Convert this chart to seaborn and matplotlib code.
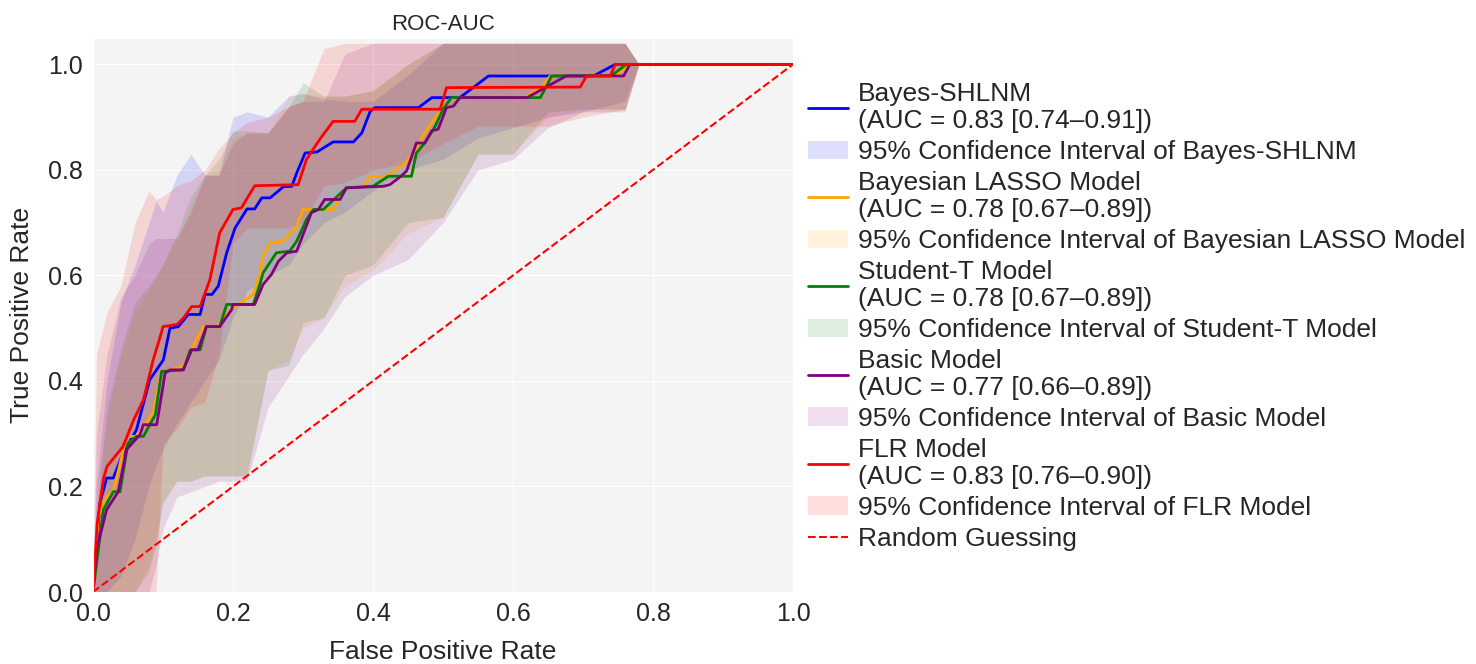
import numpy as np
import pandas as pd
import matplotlib
matplotlib.use("Agg")
import matplotlib.pyplot as plt
import seaborn as sns

# ROC curves (mean)
bayes_fpr = [0, 0.01, 0.0195, 0.029, 0.043, 0.062, 0.081, 0.1005, 0.11, 0.122,
             0.136, 0.153, 0.16, 0.17, 0.179, 0.191, 0.203, 0.22, 0.231, 0.241,
             0.253, 0.272, 0.284, 0.291, 0.303, 0.32, 0.343, 0.372, 0.384, 0.396,
             0.403, 0.465, 0.484, 0.524, 0.543, 0.565, 0.715, 0.746, 1.0]
bayes_tpr = [0, 0.169, 0.216, 0.216, 0.263, 0.307, 0.402, 0.44, 0.50, 0.503,
             0.526, 0.526, 0.564, 0.564, 0.58, 0.643, 0.69, 0.726, 0.726, 0.747,
             0.747, 0.768, 0.769, 0.794, 0.832, 0.834, 0.853, 0.853, 0.870, 0.911,
             0.918, 0.918, 0.937, 0.937, 0.956, 0.978, 0.978, 1.0, 1.0]

lasso_fpr = [0, 0.0076, 0.0195, 0.029, 0.048, 0.062, 0.086, 0.098, 0.11, 0.129,
             0.143, 0.158, 0.177, 0.196, 0.229, 0.239, 0.243, 0.253, 0.272, 0.291,
             0.30, 0.343, 0.362, 0.386, 0.396, 0.42, 0.446, 0.458, 0.474, 0.491,
             0.51, 0.524, 0.607, 0.62, 0.643, 0.653, 0.746, 0.767, 1.0]
lasso_tpr = [0, 0.143, 0.181, 0.19, 0.295, 0.295, 0.339, 0.418, 0.421, 0.428,
             0.466, 0.503, 0.503, 0.535, 0.564, 0.605, 0.636, 0.662, 0.665, 0.693,
             0.725, 0.725, 0.766, 0.769, 0.788, 0.788, 0.813, 0.832, 0.870, 0.902,
             0.934, 0.937, 0.937, 0.94, 0.959, 0.978, 0.978, 1.0, 1.0]

studt_fpr = [0, 0.0148, 0.029, 0.0386, 0.05, 0.062, 0.072, 0.089, 0.098, 0.129,
             0.139, 0.153, 0.162, 0.181, 0.191, 0.229, 0.239, 0.243, 0.262, 0.281,
             0.291, 0.305, 0.315, 0.329, 0.362, 0.40, 0.422, 0.455, 0.462, 0.474,
             0.489, 0.50, 0.512, 0.639, 0.648, 0.655, 0.741, 0.762, 1.0]
studt_tpr = [0, 0.156, 0.19, 0.19, 0.282, 0.295, 0.295, 0.336, 0.418, 0.421,
             0.459, 0.459, 0.503, 0.503, 0.545, 0.545, 0.586, 0.605, 0.643, 0.646,
             0.665, 0.706, 0.725, 0.725, 0.766, 0.769, 0.788, 0.788, 0.832, 0.851,
             0.883, 0.915, 0.937, 0.937, 0.959, 0.978, 0.979, 1.0, 1.0]

basic_fpr = [0, 0.005, 0.0195, 0.036, 0.048, 0.067, 0.072, 0.091, 0.103, 0.11,
             0.129, 0.141, 0.15, 0.162, 0.181, 0.198, 0.2, 0.231, 0.243, 0.255,
             0.265, 0.277, 0.291, 0.312, 0.322, 0.331, 0.353, 0.362, 0.415, 0.424,
             0.44, 0.448, 0.462, 0.474, 0.484, 0.493, 0.505, 0.515, 0.524, 0.62,
             0.676, 0.758, 0.767, 1.0]
basic_tpr = [0, 0.08, 0.156, 0.19, 0.27, 0.298, 0.317, 0.317, 0.415, 0.421,
             0.421, 0.459, 0.459, 0.503, 0.503, 0.535, 0.545, 0.545, 0.583, 0.602,
             0.627, 0.643, 0.646, 0.719, 0.725, 0.744, 0.744, 0.766, 0.769, 0.772,
             0.788, 0.798, 0.851, 0.851, 0.874, 0.877, 0.918, 0.921, 0.937, 0.937,
             0.978, 0.978, 1.0, 1.0]

flr_fpr = [0, 0.006, 0.015, 0.02, 0.043, 0.058, 0.072, 0.086, 0.096, 0.10,
           0.12, 0.129, 0.141, 0.153, 0.167, 0.181, 0.20, 0.212, 0.231, 0.293,
           0.305, 0.324, 0.343, 0.374, 0.384, 0.496, 0.505, 0.696, 0.705, 0.739,
           0.746, 1.0]
flr_tpr = [0, 0.13, 0.215, 0.238, 0.276, 0.326, 0.364, 0.44, 0.484, 0.503,
           0.507, 0.519, 0.541, 0.541, 0.592, 0.681, 0.725, 0.728, 0.770, 0.772,
           0.820, 0.858, 0.892, 0.892, 0.915, 0.915, 0.956, 0.957, 0.978, 0.978,
           1.0, 1.0]

# 95% CI bands, on a shared fpr grid
band_fpr = [0, 0.005, 0.02, 0.04, 0.06, 0.08, 0.09, 0.10, 0.12, 0.14, 0.16, 0.18, 0.20,
            0.22, 0.25, 0.28, 0.30, 0.33, 0.36, 0.40, 0.45, 0.50, 0.55, 0.60, 0.65,
            0.70, 0.76, 0.78]

bayes_lo = [0, 0, 0, 0.03, 0.10, 0.20, 0.24, 0.27, 0.32, 0.36, 0.40, 0.44, 0.52,
            0.57, 0.60, 0.62, 0.66, 0.70, 0.72, 0.76, 0.80, 0.82, 0.86, 0.88, 0.90,
            0.91, 0.93, 1.0]
bayes_hi = [0, 0.20, 0.40, 0.55, 0.62, 0.70, 0.74, 0.72, 0.79, 0.83, 0.79, 0.79, 0.90,
            0.91, 0.90, 0.94, 0.945, 0.935, 0.93, 0.93, 0.98, 1.04, 1.04, 1.04, 1.04,
            1.04, 1.04, 1.0]

lasso_lo = [0, 0, 0, 0, 0, 0.05, 0.10, 0.17, 0.21, 0.21, 0.22, 0.22, 0.22,
            0.22, 0.42, 0.44, 0.50, 0.52, 0.58, 0.61, 0.68, 0.71, 0.83, 0.83, 0.90,
            0.915, 0.915, 1.0]
lasso_hi = [0, 0.15, 0.33, 0.45, 0.53, 0.57, 0.60, 0.62, 0.67, 0.73, 0.79, 0.80, 0.86,
            0.87, 0.87, 0.94, 0.945, 0.94, 0.94, 0.95, 1.0, 1.04, 1.04, 1.04, 1.04,
            1.04, 1.04, 1.0]

studt_lo = [0, 0, 0, 0, 0, 0.04, 0.09, 0.17, 0.21, 0.21, 0.22, 0.22, 0.22,
            0.22, 0.42, 0.43, 0.51, 0.52, 0.60, 0.62, 0.70, 0.71, 0.83, 0.83, 0.91,
            0.915, 0.915, 1.0]
studt_hi = [0, 0.15, 0.35, 0.46, 0.55, 0.58, 0.60, 0.62, 0.68, 0.75, 0.79, 0.82, 0.874,
            0.874, 0.87, 0.92, 0.965, 0.94, 0.94, 0.95, 1.0, 1.04, 1.04, 1.04, 1.04,
            1.04, 1.04, 1.0]

basic_lo = [0, 0, 0, 0, 0, 0, 0.05, 0.12, 0.18, 0.19, 0.20, 0.21, 0.21,
            0.21, 0.35, 0.41, 0.45, 0.50, 0.56, 0.60, 0.63, 0.70, 0.80, 0.82, 0.88,
            0.91, 0.91, 1.0]
basic_hi = [0, 0.30, 0.45, 0.56, 0.60, 0.66, 0.67, 0.67, 0.67, 0.72, 0.79, 0.79, 0.85,
            0.87, 0.87, 0.92, 0.93, 0.93, 1.02, 1.04, 1.04, 1.04, 1.04, 1.04, 1.04,
            1.04, 1.04, 1.0]

flr_lo = [0, 0, 0, 0, 0, 0, 0, 0.28, 0.31, 0.35, 0.36, 0.45, 0.66,
          0.69, 0.69, 0.69, 0.70, 0.77, 0.776, 0.80, 0.813, 0.85, 0.883, 0.883, 0.883,
          0.90, 0.915, 1.0]
flr_hi = [0, 0.45, 0.53, 0.58, 0.70, 0.76, 0.744, 0.75, 0.77, 0.78, 0.80, 0.84, 0.87,
          0.89, 0.90, 0.92, 0.93, 1.03, 1.04, 1.04, 1.04, 1.04, 1.04, 1.04, 1.04,
          1.04, 1.04, 1.0]

models = ["Bayes-SHLNM", "Bayesian LASSO Model", "Student-T Model", "Basic Model", "FLR Model"]
auc_text = ["0.83 [0.74–0.91]", "0.78 [0.67–0.89]", "0.78 [0.67–0.89]",
            "0.77 [0.66–0.89]", "0.83 [0.76–0.90]"]
colors = ["blue", "orange", "green", "purple", "red"]

curves = [(bayes_fpr, bayes_tpr), (lasso_fpr, lasso_tpr), (studt_fpr, studt_tpr),
          (basic_fpr, basic_tpr), (flr_fpr, flr_tpr)]
bands = [(bayes_lo, bayes_hi), (lasso_lo, lasso_hi), (studt_lo, studt_hi),
         (basic_lo, basic_hi), (flr_lo, flr_hi)]

sns.set_style("darkgrid", {"axes.facecolor": "#f4f4f4", "grid.color": "white"})
plt.rcParams["font.family"] = ["Liberation Sans", "DejaVu Sans"]

fig = plt.figure(figsize=(14.76, 6.64), dpi=100)
ax = fig.add_axes([93 / 1476, 72 / 664, 700 / 1476, 554 / 664])

for name, auc, col, (fx, ty), (lo, hi) in zip(models, auc_text, colors, curves, bands):
    df = pd.DataFrame({"fpr": fx, "tpr": ty})
    sns.lineplot(data=df, x="fpr", y="tpr", sort=False, estimator=None, color=col,
                 lw=2, ax=ax, label=f"{name}\n(AUC = {auc})")
    ax.fill_between(band_fpr, lo, hi, color=col, alpha=0.13, lw=0,
                    label=f"95% Confidence Interval of {name}")

ax.plot([0, 1], [0, 1], ls="--", color="red", lw=1.5, label="Random Guessing")

ax.set_xlim(0, 1.0)
ax.set_ylim(0, 1.05)
ax.set_xticks([0, 0.2, 0.4, 0.6, 0.8, 1.0])
ax.set_yticks([0, 0.2, 0.4, 0.6, 0.8, 1.0])
ax.tick_params(labelsize=18, pad=4)
ax.set_xlabel("False Positive Rate", fontsize=19, labelpad=10)
ax.set_ylabel("True Positive Rate", fontsize=19, labelpad=10)
ax.set_title("ROC-AUC", fontsize=16, pad=6)

leg = ax.legend(loc="upper left", bbox_to_anchor=(808 / 1476, 1 - 82 / 664),
                bbox_transform=fig.transFigure, frameon=False, fontsize=19,
                borderpad=0, borderaxespad=0, handlelength=1.5, handletextpad=0.4,
                labelspacing=0.26)
for t in leg.get_texts():
    t.set_linespacing(1.17)

fig.savefig("out.png", dpi=100)
